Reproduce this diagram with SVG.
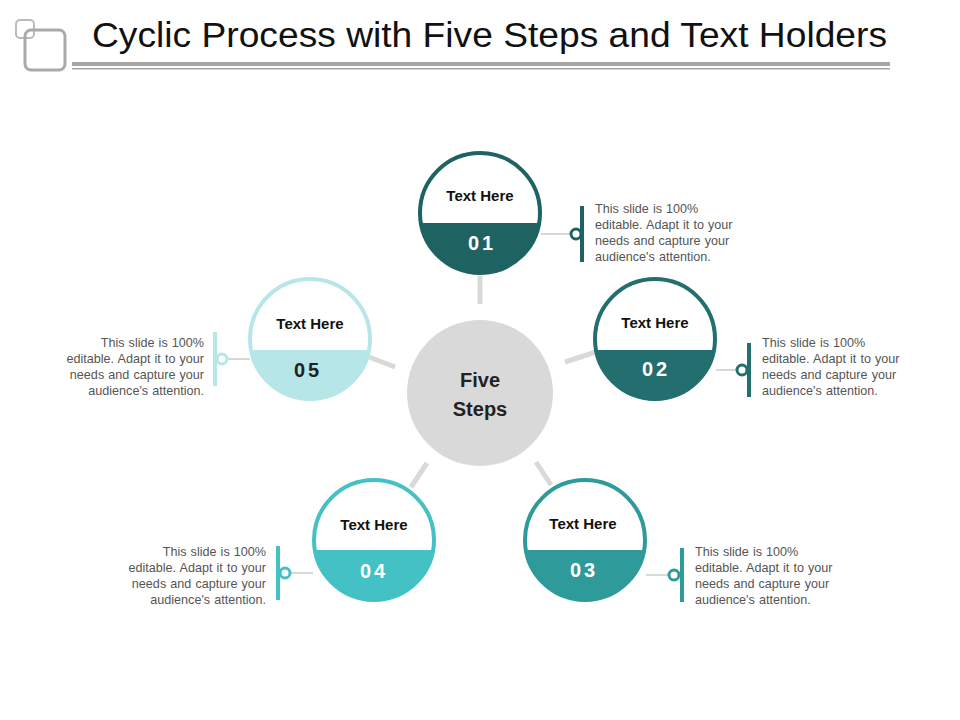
<svg xmlns="http://www.w3.org/2000/svg" width="960" height="720" viewBox="0 0 960 720">
<style>
.t{font-family:"Liberation Sans",Arial,sans-serif}
.h{font-size:15px;font-weight:bold;fill:#111;text-anchor:middle}
.n{font-size:20px;font-weight:bold;fill:#fff;text-anchor:middle;letter-spacing:3px}
.d{font-size:12.6px;fill:#555;word-spacing:0.6px}
.sp{stroke:#d9d9d9;stroke-width:5}
.cl{stroke:#bfbfbf;stroke-width:1.2}
</style>
<rect width="960" height="720" fill="#fff"/>
<g id="title">
<rect x="16" y="20" width="18" height="18" rx="4" fill="none" stroke="#bbb" stroke-width="2"/>
<rect x="25" y="30" width="40" height="40" rx="6" fill="none" stroke="#aaa" stroke-width="3"/>
<text class="t" x="92" y="47" font-size="35" fill="#111" textLength="795" lengthAdjust="spacingAndGlyphs">Cyclic Process with Five Steps and Text Holders</text>
<rect x="72" y="62" width="818" height="4" fill="#a6a6a6"/>
<rect x="72" y="68" width="818" height="1.5" fill="#a6a6a6"/>
</g>
<g id="connectors">
<line class="sp" x1="480" y1="276" x2="480" y2="304"/>
<line class="sp" x1="565" y1="362" x2="596" y2="352"/>
<line class="sp" x1="536" y1="462" x2="551" y2="485"/>
<line class="sp" x1="427" y1="463" x2="411" y2="487"/>
<line class="sp" x1="369" y1="357" x2="395" y2="367"/>
<line class="cl" x1="541" y1="234" x2="571" y2="234"/>
<line class="cl" x1="716" y1="370" x2="737" y2="370"/>
<line class="cl" x1="646" y1="575" x2="669" y2="575"/>
<line class="cl" x1="290" y1="573" x2="313" y2="573"/>
<line class="cl" x1="227" y1="359" x2="250" y2="359"/>
</g>
<g id="center"><circle cx="480" cy="393" r="73" fill="#d9d9d9"/>
<text class="t" x="480" y="387" font-size="20" font-weight="bold" fill="#222" text-anchor="middle">Five</text>
<text class="t" x="480" y="416" font-size="20" font-weight="bold" fill="#222" text-anchor="middle">Steps</text></g>
<g id="step1">
<circle cx="480" cy="213" r="60" fill="#fff" stroke="#1f6262" stroke-width="4"/>
<path d="M421.2 223 A59.5 59.5 0 0 0 538.8 223 Z" fill="#1f6262"/>
<text class="t h" x="480" y="201">Text Here</text><text class="t n" x="482" y="250">01</text>
<circle cx="576" cy="234" r="5" fill="#fff" stroke="#1f6262" stroke-width="3"/>
<rect x="580" y="206" width="4" height="56" fill="#1f6262"/>
<text class="t d" x="595" y="213">This slide is 100%<tspan x="595" dy="16">editable. Adapt it to your</tspan><tspan x="595" dy="16">needs and capture your</tspan><tspan x="595" dy="16">audience's attention.</tspan></text>
</g>
<g id="step2">
<circle cx="655" cy="339" r="60" fill="#fff" stroke="#236e6e" stroke-width="4"/>
<path d="M596.2 350 A59.5 59.5 0 0 0 713.8 350 Z" fill="#236e6e"/>
<text class="t h" x="655" y="328">Text Here</text><text class="t n" x="656" y="376">02</text>
<circle cx="742" cy="370" r="5" fill="#fff" stroke="#236e6e" stroke-width="3"/>
<rect x="747" y="343" width="4" height="54" fill="#236e6e"/>
<text class="t d" x="762" y="347">This slide is 100%<tspan x="762" dy="16">editable. Adapt it to your</tspan><tspan x="762" dy="16">needs and capture your</tspan><tspan x="762" dy="16">audience's attention.</tspan></text>
</g>
<g id="step3">
<circle cx="585" cy="540" r="60" fill="#fff" stroke="#2e9a9a" stroke-width="4"/>
<path d="M526.2 550 A59.5 59.5 0 0 0 643.8 550 Z" fill="#2e9a9a"/>
<text class="t h" x="583" y="529">Text Here</text><text class="t n" x="584" y="577">03</text>
<circle cx="674" cy="575" r="5" fill="#fff" stroke="#2e9a9a" stroke-width="3"/>
<rect x="680" y="548" width="4" height="54" fill="#2e9a9a"/>
<text class="t d" x="695" y="556">This slide is 100%<tspan x="695" dy="16">editable. Adapt it to your</tspan><tspan x="695" dy="16">needs and capture your</tspan><tspan x="695" dy="16">audience's attention.</tspan></text>
</g>
<g id="step4">
<circle cx="374" cy="540" r="60" fill="#fff" stroke="#43c1c4" stroke-width="4"/>
<path d="M315.2 550 A59.5 59.5 0 0 0 432.8 550 Z" fill="#43c1c4"/>
<text class="t h" x="374" y="530">Text Here</text><text class="t n" x="374" y="578">04</text>
<circle cx="285" cy="573" r="5" fill="#fff" stroke="#43c1c4" stroke-width="3"/>
<rect x="276" y="546" width="4" height="54" fill="#43c1c4"/>
<text class="t d" x="266" y="556" text-anchor="end">This slide is 100%<tspan x="266" dy="16">editable. Adapt it to your</tspan><tspan x="266" dy="16">needs and capture your</tspan><tspan x="266" dy="16">audience's attention.</tspan></text>
</g>
<g id="step5">
<circle cx="310" cy="339" r="60" fill="#fff" stroke="#b6e6e7" stroke-width="4"/>
<path d="M251.2 350 A59.5 59.5 0 0 0 368.8 350 Z" fill="#b6e6e7"/>
<text class="t h" x="310" y="329">Text Here</text><text class="t n" x="308" y="377" style="fill:#222">05</text>
<circle cx="222" cy="359" r="5" fill="#fff" stroke="#b6e6e7" stroke-width="3"/>
<rect x="213" y="332" width="4" height="54" fill="#b6e6e7"/>
<text class="t d" x="204" y="347" text-anchor="end">This slide is 100%<tspan x="204" dy="16">editable. Adapt it to your</tspan><tspan x="204" dy="16">needs and capture your</tspan><tspan x="204" dy="16">audience's attention.</tspan></text>
</g>
</svg>
